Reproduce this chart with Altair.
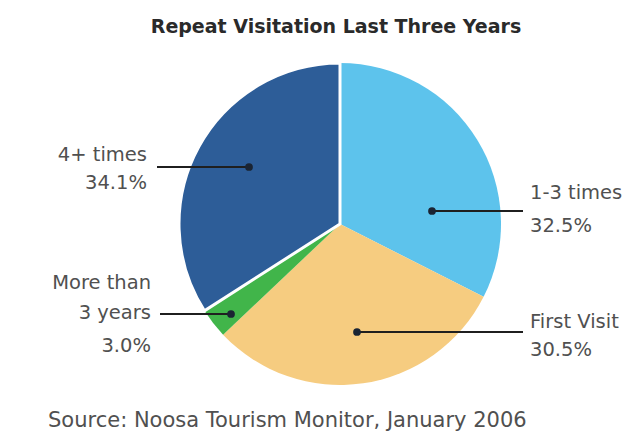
import altair as alt
import pandas as pd

# ---- data ----
categories = ["1-3 times", "First Visit", "More than 3 years", "4+ times"]
shares = [32.5, 30.5, 3.0, 34.1]
label_lines = [["1-3 times"], ["First Visit"], ["More than", "3 years"], ["4+ times"]]
slice_colors = ["#5DC3EC", "#F6CC80", "#41B54A", "#2D5D98"]
title_text = "Repeat Visitation Last Three Years"
source_text = "Source:  Noosa Tourism Monitor, January 2006"

# ---- layout (chart pixel coordinates, page minus 8px margin) ----
W, H = 619, 424
CX, CY, R = 332, 216, 161
FONT = "DejaVu Sans"
layout = {
    "1-3 times":         dict(dot=(424, 203), end=515, tx=522, ty=[185, 218], align="left"),
    "First Visit":       dict(dot=(349, 324), end=515, tx=522, ty=[314, 342], align="left"),
    "More than 3 years": dict(dot=(223, 306), end=152, tx=143, ty=[275, 305, 338], align="right"),
    "4+ times":          dict(dot=(241, 159), end=149, tx=139, ty=[147, 175], align="right"),
}

pie_df = pd.DataFrame({"cat": categories, "share": shares, "order": list(range(len(categories)))})

dots, rules, texts = [], [], []
for cat, val, lines in zip(categories, shares, label_lines):
    L = layout[cat]
    dots.append({"cat": cat, "px": L["dot"][0], "py": L["dot"][1]})
    rules.append({"cat": cat, "px": L["dot"][0], "px2": L["end"], "py": L["dot"][1]})
    all_lines = lines + [f"{val:.1f}%"]
    for t, y in zip(all_lines, L["ty"]):
        texts.append({"t": t, "px": L["tx"], "py": y, "align": L["align"]})

dots_df = pd.DataFrame(dots)
rules_df = pd.DataFrame(rules)
texts_df = pd.DataFrame(texts)

xs = alt.Scale(domain=[0, W], range=[0, W])
ys = alt.Scale(domain=[0, H], range=[0, H])

pie = alt.Chart(pie_df).mark_arc(radius=R, stroke="white").encode(
    theta=alt.Theta("share:Q", stack=True),
    order=alt.Order("order:Q"),
    color=alt.Color("cat:N", scale=alt.Scale(domain=categories, range=slice_colors), legend=None),
    strokeWidth=alt.condition(alt.datum.cat == "4+ times", alt.value(3), alt.value(0)),
    x=alt.value(CX),
    y=alt.value(CY),
)

rule_layer = alt.Chart(rules_df).mark_rule(color="#1f1f1f", strokeWidth=1.8).encode(
    x=alt.X("px:Q", scale=xs, axis=None),
    x2="px2:Q",
    y=alt.Y("py:Q", scale=ys, axis=None),
)

dot_layer = alt.Chart(dots_df).mark_circle(size=60, color="#1a2433", opacity=1).encode(
    x=alt.X("px:Q", scale=xs, axis=None),
    y=alt.Y("py:Q", scale=ys, axis=None),
)

left_text = alt.Chart(texts_df[texts_df["align"] == "left"]).mark_text(
    align="left", baseline="middle", font=FONT, fontSize=19.5, color="#505050"
).encode(
    x=alt.X("px:Q", scale=xs, axis=None),
    y=alt.Y("py:Q", scale=ys, axis=None),
    text="t:N",
)
right_text = alt.Chart(texts_df[texts_df["align"] == "right"]).mark_text(
    align="right", baseline="middle", font=FONT, fontSize=19.5, color="#505050"
).encode(
    x=alt.X("px:Q", scale=xs, axis=None),
    y=alt.Y("py:Q", scale=ys, axis=None),
    text="t:N",
)

title_layer = alt.Chart(pd.DataFrame({"t": [title_text]})).mark_text(
    align="center", baseline="middle", font=FONT, fontSize=19, fontWeight="bold", color="#2a2a2a"
).encode(x=alt.value(328), y=alt.value(19), text="t:N")

source_layer = alt.Chart(pd.DataFrame({"t": [source_text]})).mark_text(
    align="left", baseline="middle", font=FONT, fontSize=21, color="#505050"
).encode(x=alt.value(40), y=alt.value(413), text="t:N")

chart = alt.layer(
    pie, rule_layer, dot_layer, left_text, right_text, title_layer, source_layer
).properties(
    width=W, height=H, padding=0, autosize=alt.AutoSizeParams(type="none"), background="white"
).configure_view(stroke=None)

chart.save("out.html", embed_options={"renderer": "svg", "actions": False})
